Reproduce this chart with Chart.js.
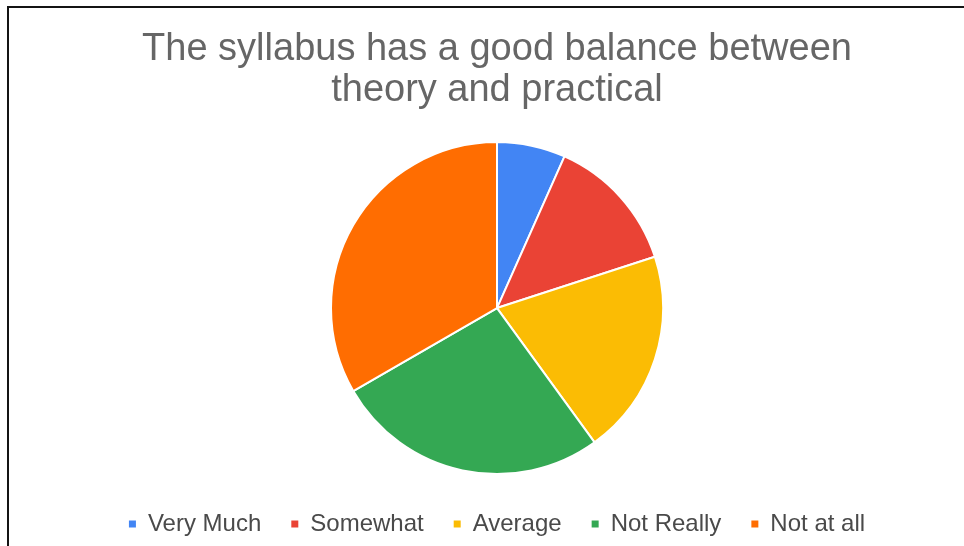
<!DOCTYPE html>
<html>
<head>
<meta charset="utf-8">
<script src="https://cdn.jsdelivr.net/npm/chart.js@4"></script>
<style>
    html, body { margin: 0; padding: 0; background: #fff; overflow: hidden; }
    #frame {
        position: absolute; left: 7px; top: 6px;
        width: 957px; height: 540px;
        border-top: 2px solid #141414; border-left: 2px solid #141414;
    }
    #chart-wrap { position: absolute; left: 0; top: 0; width: 955px; height: 538px; }
</style>
</head>
<body>
<div id="frame"><div id="chart-wrap"><canvas id="pie-chart"></canvas></div></div>
<script>
const categories = ["Very Much", "Somewhat", "Average", "Not Really", "Not at all"];
const responses = [1, 2, 3, 4, 5];
const colors = ["#4285F4", "#EA4335", "#FBBC04", "#34A853", "#FF6D01"];
const titleLines = ["The syllabus has a good balance between", "theory and practical"];

function main() {
    const pieCanvas = document.querySelector('#pie-chart');

    new Chart(pieCanvas.getContext('2d'), {
        type: 'pie',
        data: {
            labels: categories,
            datasets: [{
                data: responses,
                backgroundColor: colors,
                borderColor: '#ffffff',
                borderWidth: 2,
                radius: 166
            }]
        },
        options: {
            responsive: true,
            maintainAspectRatio: false,
            animation: false,
            layout: { padding: { left: 21, right: 0, top: 0, bottom: 0 } },
            plugins: {
                title: {
                    display: true,
                    text: titleLines,
                    color: '#666666',
                    font: { family: 'Liberation Sans, Arial, sans-serif', size: 38, weight: 'normal', lineHeight: 1.08 },
                    padding: { top: 21, bottom: 23 }
                },
                legend: {
                    position: 'bottom',
                    labels: {
                        color: '#4a4a4a',
                        font: { family: 'Liberation Sans, Arial, sans-serif', size: 24 },
                        boxWidth: 7,
                        boxHeight: 7,
                        padding: 30,
                        generateLabels: chart => {
                            const items = Chart.overrides.pie.plugins.legend.labels.generateLabels(chart);
                            items.forEach(item => { item.lineWidth = 0; item.strokeStyle = item.fillStyle; });
                            return items;
                        }
                    }
                },
                tooltip: { enabled: false }
            }
        }
    });
}

main();
</script>
</body>
</html>
